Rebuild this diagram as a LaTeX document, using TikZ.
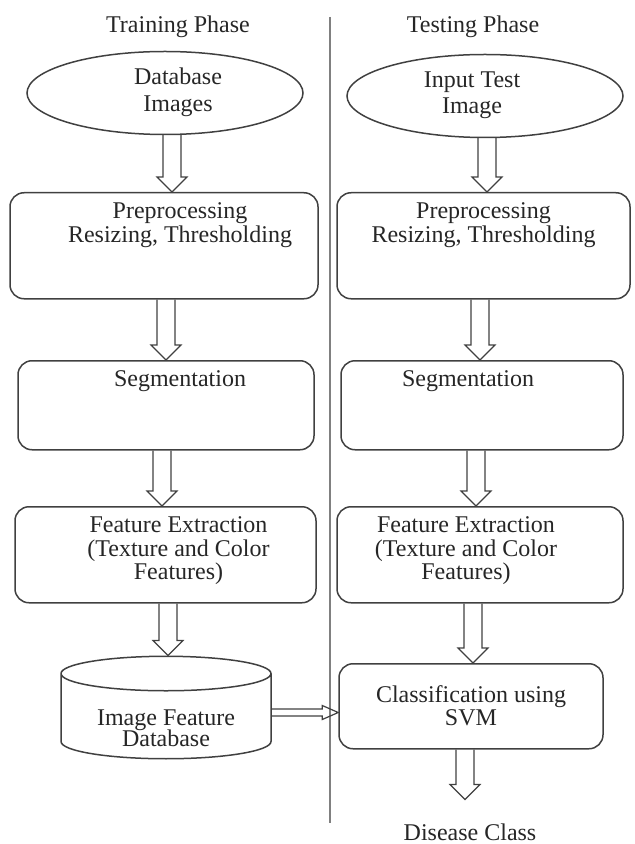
\documentclass[tikz,border=0pt]{standalone}
\usepackage{fontspec}
\setmainfont{Liberation Serif}
\newfontfamily\diagfont{Liberation Serif}
\usetikzlibrary{shapes.geometric,calc,positioning}

\begin{document}
\begin{tikzpicture}[x=0.5pt, y=-0.5pt,
    every node/.style={text=black!85, font=\diagfont\fontsize{12}{11}\selectfont},
    stepbox/.style={draw=black!75, line width=0.75pt, rounded corners=7pt, inner sep=0pt, anchor=north, text height=13pt},
    source/.style={draw=black!75, line width=0.75pt, ellipse, minimum width=138pt, minimum height=41.5pt, inner sep=0pt},
    store/.style={draw=black!75, line width=0.75pt, cylinder, shape border rotate=90, aspect=0.25, minimum width=105pt, minimum height=49.5pt, inner sep=0pt},
    downarrow/.style={draw=black!75, line width=0.6pt, to path={let \p1=(\tikztostart), \p2=(\tikztotarget) in
        (\x1-4.5pt,\y1) -- (\x1-4.5pt,\y2+7.5pt) -- (\x1-7.5pt,\y2+7.5pt) -- (\x1,\y2)
        -- (\x1+7.5pt,\y2+7.5pt) -- (\x1+4.5pt,\y2+7.5pt) -- (\x1+4.5pt,\y1)}},
    rightarrow/.style={draw=black!75, line width=0.6pt, to path={let \p1=(\tikztostart), \p2=(\tikztotarget) in
        (\x1,\y1+1.75pt) -- (\x2-8pt,\y1+1.75pt) -- (\x2-8pt,\y1+3.5pt) -- (\x2,\y1)
        -- (\x2-8pt,\y1-3.5pt) -- (\x2-8pt,\y1-1.75pt) -- (\x1,\y1-1.75pt)}}
]
\useasboundingbox (0,0) rectangle (635,844);

% Phase titles and divider
\node (train) at (178,27) {Training Phase};
\node (test) at (473,27) {Testing Phase};
\draw[gray, line width=1pt] (330,17) -- (330,823);

% Training phase
\node[source] (dbimg) at (165,93) {\hspace*{13pt}\begin{tabular}{@{}c@{}}Database\\[2pt]Images\end{tabular}};
\node[stepbox, minimum width=154pt, text depth=40pt] (pre1) at (164,192)
    {\hspace*{16pt}\begin{tabular}[t]{@{}c@{}}Preprocessing\\Resizing, Thresholding\end{tabular}};
\node[stepbox, minimum width=148pt, text depth=31.5pt] (seg1) at (166,360)
    {\hspace*{14pt}\begin{tabular}[t]{@{}c@{}}Segmentation\end{tabular}};
\node[stepbox, minimum width=150.5pt, text depth=35pt] (feat1) at (165.5,506)
    {\hspace*{13pt}\begin{tabular}[t]{@{}c@{}}Feature Extraction\\(Texture and Color\\Features)\end{tabular}};
\node[store, text height=17pt, text depth=8pt] (featdb) at (166,716.5)
    {\begin{tabular}[t]{@{}c@{}}Image Feature\\[-1pt]Database\end{tabular}};

% Testing phase
\node[source] (testimg) at (485,96) {\begin{tabular}{@{}c@{}}Input Test\\[2pt]Image\end{tabular}\hspace*{13pt}};
\node[stepbox, minimum width=146.5pt, text depth=40pt] (pre2) at (483.5,192)
    {\begin{tabular}[t]{@{}c@{}}Preprocessing\\Resizing, Thresholding\end{tabular}};
\node[stepbox, minimum width=141pt, text depth=31.5pt] (seg2) at (482,360)
    {\begin{tabular}[t]{@{}c@{}}Segmentation\end{tabular}\hspace*{14pt}};
\node[stepbox, minimum width=143pt, text depth=35pt] (feat2) at (480,506)
    {\begin{tabular}[t]{@{}c@{}}Feature Extraction\\(Texture and Color\\Features)\end{tabular}\hspace*{14pt}};
\node[stepbox, minimum width=132pt, text height=19.5pt, text depth=23pt] (svm) at (471,663)
    {\begin{tabular}[t]{@{}c@{}}Classification using\\SVM\end{tabular}};
\node (out) at (470,832) {Disease Class};

% Arrows
\draw[downarrow] ([xshift=3.5pt]dbimg.south) to (pre1.north);
\draw[downarrow] ([xshift=1pt]pre1.south) to (seg1.north);
\draw[downarrow] ([xshift=-2pt]seg1.south) to (feat1.north);
\draw[downarrow] ([xshift=1.25pt]feat1.south) to (featdb.north);
\draw[downarrow] ([xshift=1pt]testimg.south) to (pre2.north);
\draw[downarrow] ([xshift=-1.75pt]pre2.south) to (seg2.north);
\draw[downarrow] ([xshift=-3pt]seg2.south) to (feat2.north);
\draw[downarrow] ([xshift=-3.5pt]feat2.south) to (svm.north);
\draw[downarrow] ([xshift=-3pt]svm.south) to ([yshift=8.5pt]out.north);
\draw[rightarrow] ([yshift=2pt]featdb.east) to (svm.west);

\end{tikzpicture}
\end{document}
